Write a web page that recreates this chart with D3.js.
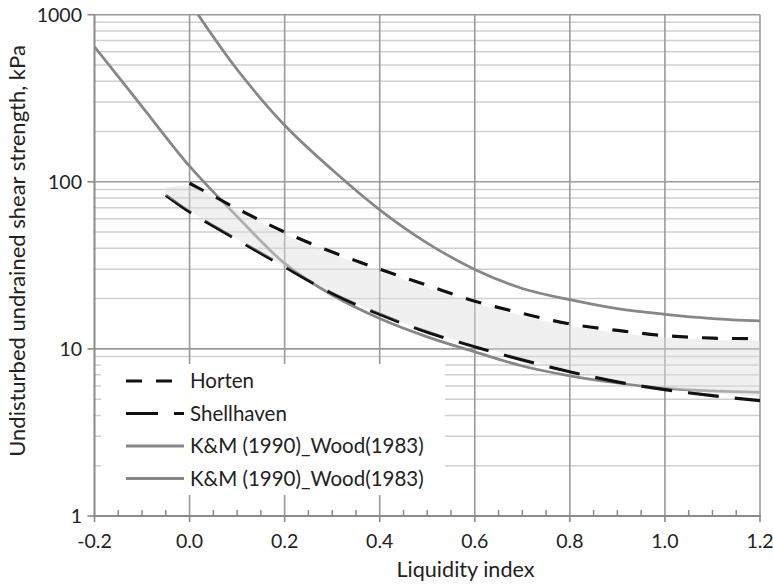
<!DOCTYPE html>
<html>
<head>
<meta charset="utf-8">
<script src="https://cdn.jsdelivr.net/npm/d3@7"></script>
<style>
  html, body { margin: 0; padding: 0; background: #fff; }
  svg { display: block; }
  text { font-family: Lato, "Open Sans", sans-serif; fill: #222; }
</style>
</head>
<body>
<svg id="chart" width="773" height="585"></svg>
<script>
// Liquidity index vs undisturbed undrained shear strength (kPa)
const xTicks = [-0.2, 0.0, 0.2, 0.4, 0.6, 0.8, 1.0, 1.2];
const xTickLabels = ["-0.2", "0.0", "0.2", "0.4", "0.6", "0.8", "1.0", "1.2"];
const yTicks = [1, 10, 100, 1000];
const yTickLabels = ["1", "10", "100", "1000"];

// Horten (dashed)
const hortenLI = [0.0, 0.1, 0.2, 0.3, 0.4, 0.5, 0.6, 0.7, 0.8, 0.9, 1.0, 1.1, 1.2];
const hortenSu = [98, 69, 50, 38, 30, 24, 19.3, 16.3, 14.1, 12.9, 12.0, 11.6, 11.5];

// Shellhaven (long dash)
const shellLI = [-0.05, 0.0, 0.1, 0.2, 0.3, 0.4, 0.5, 0.6, 0.7, 0.8, 0.9, 1.0, 1.1, 1.2];
const shellSu = [83, 66, 45, 31, 21.5, 16.1, 12.6, 10.3, 8.6, 7.3, 6.35, 5.7, 5.25, 4.9];

// K&M (1990)_Wood(1983), lower curve
const kmLowLI = [-0.2, -0.1, 0.0, 0.1, 0.2, 0.3, 0.4, 0.5, 0.6, 0.7, 0.8, 0.9, 1.0, 1.1, 1.2];
const kmLowSu = [643, 282, 124, 62, 32.5, 21.0, 15.2, 11.8, 9.6, 7.9, 6.9, 6.25, 5.8, 5.6, 5.5];

// K&M (1990)_Wood(1983), upper curve
const kmHighLI = [0.018, 0.1, 0.2, 0.3, 0.4, 0.5, 0.6, 0.7, 0.8, 0.9, 1.0, 1.1, 1.2];
const kmHighSu = [1000, 470, 218, 118, 68, 43, 29.9, 23.0, 19.7, 17.4, 16.1, 15.2, 14.7];

// Shaded range between the two site curves
const bandLI = [-0.05, 0.0, 0.1, 0.2, 0.3, 0.4, 0.5, 0.6, 0.7, 0.8, 0.9, 1.0, 1.1, 1.2];
const bandUpper = [92, 94, 67, 48.5, 37, 29, 23.3, 18.8, 15.8, 13.7, 12.5, 11.7, 11.3, 11.2];
const bandLower = [83, 67, 45.5, 31.3, 21.8, 16.3, 12.8, 10.5, 8.75, 7.45, 6.5, 5.85, 5.45, 5.15];

const legendLabels = ["Horten", "Shellhaven", "K&M (1990)_Wood(1983)", "K&M (1990)_Wood(1983)"];

const svg = d3.select("#chart");
const plotLeft = 94.5, plotRight = 760, plotTop = 14.7, plotBottom = 516;

const x = d3.scaleLinear().domain([-0.2, 1.2]).range([plotLeft, plotRight]);
const y = d3.scaleLog().domain([1, 1000]).range([plotBottom, plotTop]);

const gridMajor = "#9a9a9a", gridMinor = "#cfcfcf", axisCol = "#8a8a8a", curveGray = "#878787";

svg.append("defs").append("clipPath").attr("id", "plotClip")
  .append("rect").attr("x", plotLeft).attr("y", plotTop)
  .attr("width", plotRight - plotLeft).attr("height", plotBottom - plotTop);

// horizontal grid: minor values 2..9 in each decade, then decades
const minorVals = [];
[1, 10, 100].forEach(d => { for (let k = 2; k <= 9; k++) minorVals.push(d * k); });
svg.append("g").selectAll("line").data(minorVals).join("line")
  .attr("x1", plotLeft).attr("x2", plotRight)
  .attr("y1", d => y(d)).attr("y2", d => y(d))
  .attr("stroke", gridMinor).attr("stroke-width", 1.5);
svg.append("g").selectAll("line").data(yTicks.slice(1)).join("line")
  .attr("x1", plotLeft).attr("x2", plotRight)
  .attr("y1", d => y(d)).attr("y2", d => y(d))
  .attr("stroke", gridMajor).attr("stroke-width", 1.6);

// vertical grid at major ticks
svg.append("g").selectAll("line").data(xTicks.slice(1)).join("line")
  .attr("x1", d => x(d)).attr("x2", d => x(d))
  .attr("y1", plotTop).attr("y2", plotBottom)
  .attr("stroke", gridMajor).attr("stroke-width", 1.6);

const smooth = d3.curveCatmullRom.alpha(0.5);
const line = d3.line().x(d => x(d[0])).y(d => y(d[1])).curve(smooth);
const plot = svg.append("g").attr("clip-path", "url(#plotClip)");

plot.append("path").datum(d3.zip(kmLowLI, kmLowSu)).attr("d", line)
  .attr("fill", "none").attr("stroke", curveGray).attr("stroke-width", 2.75);
plot.append("path").datum(d3.zip(kmHighLI, kmHighSu)).attr("d", line)
  .attr("fill", "none").attr("stroke", curveGray).attr("stroke-width", 2.75);
plot.append("path").datum(d3.zip(hortenLI, hortenSu)).attr("d", line)
  .attr("fill", "none").attr("stroke", "#111").attr("stroke-width", 3.2)
  .attr("stroke-dasharray", "16,14");
plot.append("path").datum(d3.zip(shellLI, shellSu)).attr("d", line)
  .attr("fill", "none").attr("stroke", "#111").attr("stroke-width", 3.2)
  .attr("stroke-dasharray", "31,16");

// translucent band laid over the curves
const area = d3.area().x(d => x(d[0])).y0(d => y(d[2])).y1(d => y(d[1])).curve(smooth);
plot.append("path").datum(d3.zip(bandLI, bandUpper, bandLower)).attr("d", area)
  .attr("fill", "#dbdddb").attr("fill-opacity", 0.45);

// axes
const ax = svg.append("g");
ax.append("line").attr("x1", plotLeft).attr("x2", plotLeft).attr("y1", plotTop).attr("y2", plotBottom + 1)
  .attr("stroke", axisCol).attr("stroke-width", 2);
ax.append("line").attr("x1", plotLeft - 1).attr("x2", plotRight + 1).attr("y1", plotBottom).attr("y2", plotBottom)
  .attr("stroke", axisCol).attr("stroke-width", 2);

// y major ticks (outside) and labels
ax.selectAll(".yt").data(yTicks).join("line").attr("class", "yt")
  .attr("x1", plotLeft - 7).attr("x2", plotLeft).attr("y1", d => y(d)).attr("y2", d => y(d))
  .attr("stroke", axisCol).attr("stroke-width", 1.6);
ax.selectAll(".yl").data(yTicks).join("text").attr("class", "yl")
  .attr("x", 82).attr("y", d => y(d)).attr("dy", "0.36em")
  .attr("text-anchor", "end").attr("font-size", 19.5)
  .text((d, i) => yTickLabels[i]);

// x major ticks (outside), minor ticks (inside) and labels
const xMinor = d3.range(-0.15, 1.2, 0.05).filter(v => Math.abs(Math.round(v * 5) - v * 5) > 1e-6);
ax.selectAll(".xm").data(xMinor).join("line").attr("class", "xm")
  .attr("x1", d => x(d)).attr("x2", d => x(d)).attr("y1", plotBottom - 6).attr("y2", plotBottom)
  .attr("stroke", axisCol).attr("stroke-width", 1.5);
ax.selectAll(".xt").data(xTicks).join("line").attr("class", "xt")
  .attr("x1", d => x(d)).attr("x2", d => x(d)).attr("y1", plotBottom).attr("y2", plotBottom + 6)
  .attr("stroke", axisCol).attr("stroke-width", 1.6);
ax.selectAll(".xl").data(xTicks).join("text").attr("class", "xl")
  .attr("x", d => x(d)).attr("y", 548)
  .attr("text-anchor", "middle").attr("font-size", 19.5)
  .text((d, i) => xTickLabels[i]);

// axis titles
svg.append("text").attr("x", 465.5).attr("y", 577).attr("text-anchor", "middle")
  .attr("font-size", 21.6).text("Liquidity index");
svg.append("text").attr("transform", "translate(25,251) rotate(-90)")
  .attr("text-anchor", "middle").attr("font-size", 22)
  .text("Undisturbed undrained shear strength, kPa");

// legend
const lg = svg.append("g");
lg.append("rect").attr("x", 101).attr("y", 364).attr("width", 344).attr("height", 131).attr("fill", "#fff");
const styles = [
  { stroke: "#111", dash: "16,14", w: 3.2 },
  { stroke: "#111", dash: "32,16", w: 3.2 },
  { stroke: curveGray, dash: null, w: 3.2 },
  { stroke: curveGray, dash: null, w: 3.2 }
];
legendLabels.forEach((lab, i) => {
  const yy = 381 + i * 32.5;
  lg.append("line").attr("x1", 126).attr("x2", 184).attr("y1", yy).attr("y2", yy)
    .attr("stroke", styles[i].stroke).attr("stroke-width", styles[i].w)
    .attr("stroke-dasharray", styles[i].dash);
  lg.append("text").attr("x", 190).attr("y", yy).attr("dy", "0.36em")
    .attr("font-size", 20.5).text(lab);
});
</script>
</body>
</html>
